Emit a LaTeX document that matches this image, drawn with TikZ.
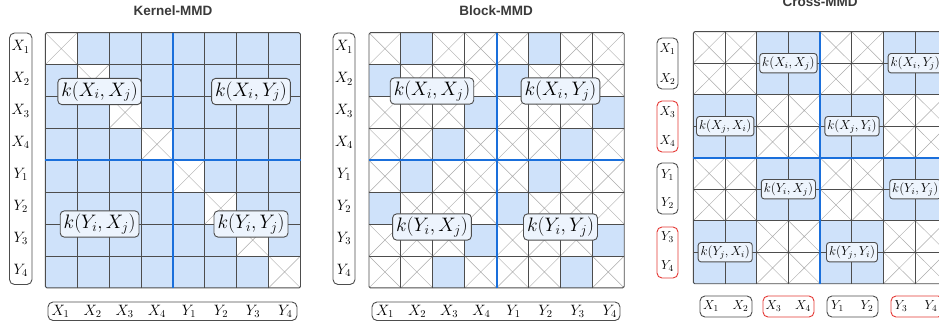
\RequirePackage{fix-cm}
\documentclass[tikz,border=0pt]{standalone}
\usepackage{fontspec}
\newfontfamily\titlefont{Liberation Sans}
\definecolor{cb}{HTML}{CFE2FA}
\definecolor{gl}{HTML}{4D4D4D}
\definecolor{bl}{HTML}{1A6FDB}
\definecolor{lb}{HTML}{EDF4FD}
\definecolor{xg}{HTML}{ABABAB}
\definecolor{rd}{HTML}{E53935}
\definecolor{tg}{HTML}{3A3A3A}
\tikzset{
  gridl/.style={draw=gl, line width=0.9pt},
  xline/.style={draw=xg, line width=0.45pt},
  bline/.style={draw=bl, line width=1.8pt},
  ttl/.style={font=\titlefont\bfseries\fontsize{13.5}{15}\selectfont, text=tg},
  bigl/.style={draw=gl, line width=0.9pt, fill=lb, rounded corners=4pt, inner xsep=3.5pt, inner ysep=3pt, font=\fontsize{19.5}{21}\selectfont},
  smal/.style={draw=gl, line width=0.9pt, fill=lb, rounded corners=3pt, inner xsep=2.5pt, inner ysep=3pt, font=\fontsize{13}{14}\selectfont},
  rl/.style={font=\fontsize{15}{16}\selectfont, inner sep=0pt},
  srl/.style={font=\fontsize{13}{14}\selectfont, inner sep=0pt},
  lbox/.style={draw=gl, line width=0.9pt, rounded corners=5pt},
  rbox/.style={draw=rd, line width=0.9pt, rounded corners=5pt},
}
\begin{document}
\begin{tikzpicture}[x=1pt,y=-1pt]
\useasboundingbox (0,0) rectangle (939,326);
\clip (0,0) rectangle (939,326);
\fill[white] (0,0) rectangle (939,326);

% ================= Kernel-MMD =================
\def\ox{45.3}\def\oy{32.7}\def\cs{31.9}
\fill[cb] (\ox,\oy) rectangle ++(8*\cs,8*\cs);
\foreach \i in {0,...,7}{
  \fill[white] ({\ox+\i*\cs},{\oy+\i*\cs}) rectangle ++(\cs,\cs);
  \draw[xline] ({\ox+\i*\cs},{\oy+\i*\cs}) -- ++(\cs,\cs)
               ({\ox+(\i+1)*\cs},{\oy+\i*\cs}) -- ++(-\cs,\cs);
}
\foreach \i in {1,...,7}{
  \draw[gridl] ({\ox+\i*\cs},\oy) -- ++(0,8*\cs);
  \draw[gridl] (\ox,{\oy+\i*\cs}) -- ++(8*\cs,0);
}
\draw[gridl, rounded corners=1.5pt] (\ox,\oy) rectangle ++(8*\cs,8*\cs);
\draw[bline] ({\ox+4*\cs},\oy) -- ++(0,8*\cs);
\draw[bline] (\ox,{\oy+4*\cs}) -- ++(8*\cs,0);

\node[ttl] (kt) at (173,11) {Kernel-MMD};
\node[bigl] (k11) at (99.6,91.5) {$k(X_i,X_j)$};
\node[bigl] (k12) at (251,91.5) {$k(X_i,Y_j)$};
\node[bigl] (k21) at (99.6,224) {$k(Y_i,X_j)$};
\node[bigl] (k22) at (251,224) {$k(Y_i,Y_j)$};

\draw[lbox] (9.5,33) rectangle (32,284.5);
\foreach \n/\t in {0/X_1,1/X_2,2/X_3,3/X_4,4/Y_1,5/Y_2,6/Y_3,7/Y_4}{
  \node[rl] (kr\n) at (20.7,{47+\n*31.9}) {$\t$};
}
\draw[lbox] (48,302) rectangle (297,320.5);
\foreach \n/\t in {0/X_1,1/X_2,2/X_3,3/X_4,4/Y_1,5/Y_2,6/Y_3,7/Y_4}{
  \node[rl] (kc\n) at ({60.5+\n*32.1},311.3) {$\t$};
}

% ================= Block-MMD =================
\def\bx{369}\def\by{32.7}
\foreach \r in {0,...,7}{
  \foreach \c in {0,...,7}{
    \draw[xline] ({\bx+\c*\cs},{\by+\r*\cs}) -- ++(\cs,\cs)
                 ({\bx+(\c+1)*\cs},{\by+\r*\cs}) -- ++(-\cs,\cs);
  }
}
\foreach \r/\a/\b in {0/1/5,1/0/4,2/3/7,3/2/6,4/1/5,5/0/4,6/3/7,7/2/6}{
  \fill[cb] ({\bx+\a*\cs},{\by+\r*\cs}) rectangle ++(\cs,\cs);
  \fill[cb] ({\bx+\b*\cs},{\by+\r*\cs}) rectangle ++(\cs,\cs);
}
\foreach \i in {1,...,7}{
  \draw[gridl] ({\bx+\i*\cs},\by) -- ++(0,8*\cs);
  \draw[gridl] (\bx,{\by+\i*\cs}) -- ++(8*\cs,0);
}
\draw[gridl, rounded corners=1.5pt] (\bx,\by) rectangle ++(8*\cs,8*\cs);
\draw[bline] ({\bx+4*\cs},\by) -- ++(0,8*\cs);
\draw[bline] (\bx,{\by+4*\cs}) -- ++(8*\cs,0);

\node[ttl] (bt) at (496,11) {Block-MMD};
\node[bigl] (b11) at (432,91) {$k(X_i,X_j)$};
\node[bigl] (b12) at (560.5,91) {$k(X_i,Y_j)$};
\node[bigl] (b21) at (432,227) {$k(Y_i,X_j)$};
\node[bigl] (b22) at (560.5,227) {$k(Y_i,Y_j)$};

\draw[lbox] (333,33) rectangle (355,284.5);
\foreach \n/\t in {0/X_1,1/X_2,2/X_3,3/X_4,4/Y_1,5/Y_2,6/Y_3,7/Y_4}{
  \node[rl] (br\n) at (344,{47+\n*31.9}) {$\t$};
}
\draw[lbox] (372,302) rectangle (620,320.5);
\foreach \n/\t in {0/X_1,1/X_2,2/X_3,3/X_4,4/Y_1,5/Y_2,6/Y_3,7/Y_4}{
  \node[rl] (bc\n) at ({385+\n*32.1},311.3) {$\t$};
}

% ================= Cross-MMD =================
\def\cx{693.3}\def\cy{31.7}\def\cw{31.7}\def\ch{31.5}
\foreach \r in {0,...,7}{
  \foreach \c in {0,...,7}{
    \draw[xline] ({\cx+\c*\cw},{\cy+\r*\ch}) -- ++(\cw,\ch)
                 ({\cx+(\c+1)*\cw},{\cy+\r*\ch}) -- ++(-\cw,\ch);
  }
}
\foreach \r/\c in {0/1,0/3,1/0,1/2,2/1,2/3,3/0,3/2}{
  \fill[cb] ({\cx+2*\c*\cw},{\cy+2*\r*\ch}) rectangle ++(2*\cw,2*\ch);
}
\foreach \i in {1,...,7}{
  \draw[gridl] ({\cx+\i*\cw},\cy) -- ++(0,8*\ch);
  \draw[gridl] (\cx,{\cy+\i*\ch}) -- ++(8*\cw,0);
}
\draw[gridl, rounded corners=1.5pt] (\cx,\cy) rectangle ++(8*\cw,8*\ch);
\draw[bline] ({\cx+4*\cw},\cy) -- ++(0,8*\ch);
\draw[bline] (\cx,{\cy+4*\ch}) -- ++(8*\cw,0);

\node[ttl] (ct) at (820,1.5) {Cross-MMD};
\node[smal] (c01) at (788.4,63.2) {$k(X_i,X_j)$};
\node[smal] (c03) at (915.2,63.2) {$k(X_i,Y_j)$};
\node[smal] (c10) at (725.2,126.2) {$k(X_j,X_i)$};
\node[smal] (c12) at (852,126.2) {$k(X_j,Y_i)$};
\node[smal] (c21) at (788.4,189.2) {$k(Y_i,X_j)$};
\node[smal] (c23) at (915.2,189.2) {$k(Y_i,Y_j)$};
\node[smal] (c30) at (725.2,252.2) {$k(Y_j,X_i)$};
\node[smal] (c32) at (852,252.2) {$k(Y_j,Y_i)$};

\draw[lbox] (657,38) rectangle (678,89);
\draw[rbox] (657,101) rectangle (678,152);
\draw[lbox] (657,163) rectangle (678,214);
\draw[rbox] (657,227) rectangle (678,278);
\foreach \n/\t/\y in {0/X_1/49.5,1/X_2/79.5,2/X_3/112,3/X_4/141.5,4/Y_1/175,5/Y_2/203.5,6/Y_3/237,7/Y_4/266}{
  \node[srl] (cr\n) at (667.5,\y) {$\t$};
}
\draw[lbox] (700,296) rectangle (752,317);
\draw[rbox] (763,296) rectangle (814,317);
\draw[lbox] (827,296) rectangle (878,317);
\draw[rbox] (891,296) rectangle (943,317);
\foreach \n/\t/\x in {0/X_1/711,1/X_2/740.5,2/X_3/773.5,3/X_4/803,4/Y_1/837.5,5/Y_2/867,6/Y_3/901,7/Y_4/931}{
  \node[srl] (cc\n) at (\x,306.5) {$\t$};
}
\end{tikzpicture}
\end{document}
